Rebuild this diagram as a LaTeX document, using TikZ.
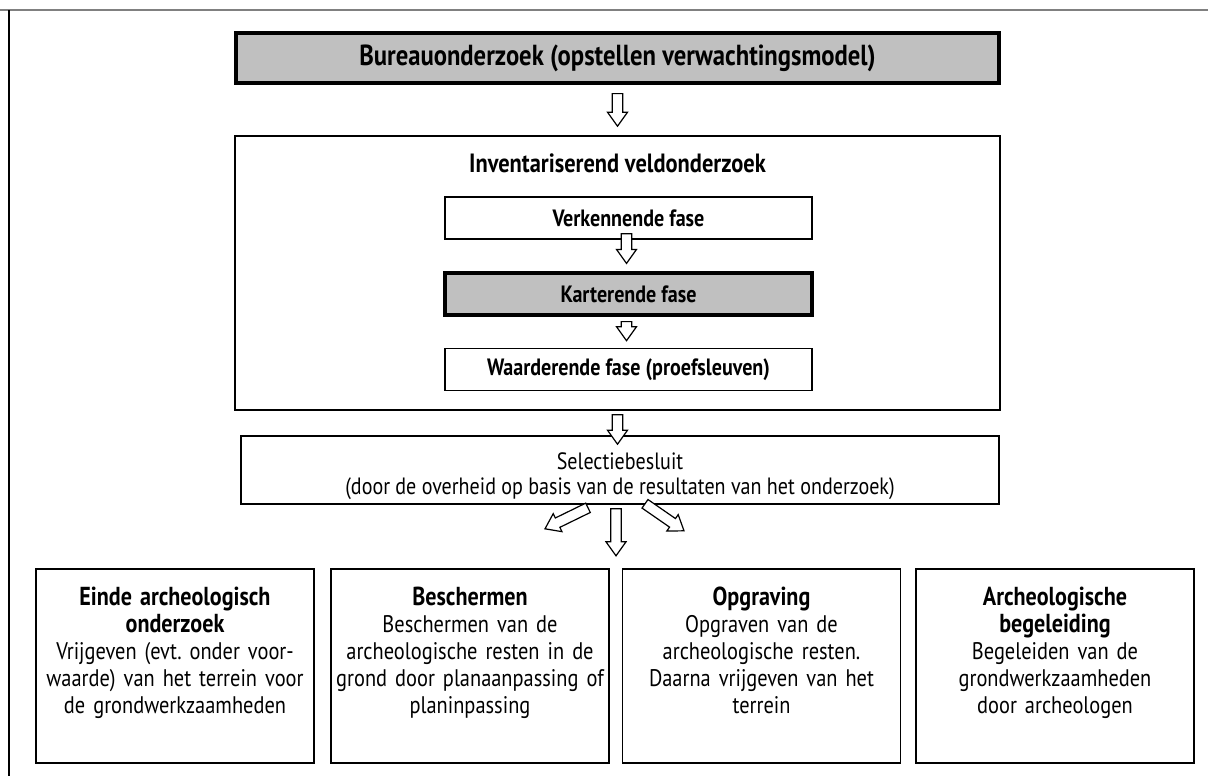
\documentclass[tikz,border=0pt]{standalone}
\usepackage{fontspec}
\setmainfont[FakeStretch=0.85]{PT Sans}
\usetikzlibrary{calc,positioning}

\definecolor{boxgray}{HTML}{C0C0C0}
\newcommand{\resulttitle}{\fontsize{13}{13.8}\selectfont\bfseries}

% hollow block arrow from #1 to #2
\newcommand{\blockarrow}[2]{%
  \draw[arrowbody] let \p1=(#1), \p2=(#2), \p3=($(\p2)!7pt!(\p1)$) in
    ($(\p1)!2.6pt!90:(\p2)$) -- ($(\p3)!2.6pt!90:(\p2)$) -- ($(\p3)!5pt!90:(\p2)$)
    -- (\p2) -- ($(\p3)!5pt!-90:(\p2)$) -- ($(\p3)!2.6pt!-90:(\p2)$)
    -- ($(\p1)!2.6pt!-90:(\p2)$) -- cycle;}

\tikzset{
  box/.style={draw, line width=0.8pt, align=center, inner sep=2pt},
  greybox/.style={box, fill=boxgray, line width=1.6pt},
  phase/.style={box, minimum width=183.5pt, minimum height=21pt, font=\fontsize{11.8}{14}\bfseries},
  endbox/.style={box, minimum width=139pt, minimum height=97pt},
  endtext/.style={align=center, text width=135pt, inner sep=2pt, font=\fontsize{12}{13.6}\selectfont\frenchspacing},
  arrowbody/.style={draw, fill=white, line width=0.6pt, line join=miter}
}

\begin{document}
\begin{tikzpicture}[x=0.5pt, y=-0.5pt, font=\fontsize{11.8}{12.5}\selectfont]
    \useasboundingbox (0,0) rectangle (1208,776);
    % page frame
    \draw[gray, line width=1pt] (0,10) -- (1208,10);
    \draw[line width=0.8pt] (9,10) -- (9,776);

    \node[greybox, minimum width=381.5pt, minimum height=25pt, font=\fontsize{14.5}{16}\bfseries] (bureau) at (617.5,58) {Bureauonderzoek (opstellen verwachtingsmodel)};

    \node[box, minimum width=382.5pt, minimum height=137pt] (inv) at (617.5,273) {};
    \node[font=\fontsize{13.2}{15}\bfseries] (invtitle) at (617.5,163) {Inventariserend veldonderzoek};
    \node[phase] (verk) at (628.5,218) {Verkennende fase};
    \node[phase, fill=boxgray, line width=1.6pt] (kart) at (628.5,294) {Karterende fase};
    \node[phase] (waard) at (628.5,369.5) {Waarderende fase (proefsleuven)};

    \node[box, minimum width=379pt, minimum height=34pt] (sel) at (620,470) {};
    \node[align=center] (seltxt) at ([yshift=-3pt]sel.center) {Selectiebesluit\\(door de overheid op basis van de resultaten van het onderzoek)};

    \node[endbox] (einde) at (175,666) {};
    \node[endtext, below=7pt of einde.north] (eindetxt) {{\resulttitle Einde archeologisch\\onderzoek}\par Vrijgeven (evt. onder voor-\\waarde) van het terrein voor\\de grondwerkzaamheden};
    \node[endbox] (bescherm) at (470,666) {};
    \node[endtext, below=7pt of bescherm.north] (beschermtxt) {{\resulttitle Beschermen}\par Beschermen van de\\archeologische resten in de\\grond door planaanpassing of\\planinpassing};
    \node[endbox] (opgraving) at (761.5,666) {};
    \node[endtext, below=7pt of opgraving.north] (opgravingtxt) {{\resulttitle Opgraving}\par Opgraven van de\\archeologische resten.\\Daarna vrijgeven van het\\terrein};
    \node[endbox] (begeleid) at (1055,666) {};
    \node[endtext, below=7pt of begeleid.north] (begeleidtxt) {{\resulttitle Archeologische\\begeleiding}\par Begeleiden van de\\grondwerkzaamheden\\door archeologen};

    \coordinate (selin) at (inv.south |- sel.north);
    \coordinate (lefttail) at ($(sel.south)+(-32,3)$);
    \coordinate (lefttip) at ($(sel.south)+(-75,24)$);
    \coordinate (midtail) at ($(sel.south)+(-4,4)$);
    \coordinate (midtip) at ($(sel.south)+(-4,51)$);
    \coordinate (righttail) at ($(sel.south)+(25,-1)$);
    \coordinate (righttip) at ($(sel.south)+(64,26)$);

    \blockarrow{[yshift=-4.5pt]bureau.south}{[yshift=4.5pt]inv.north}
    \blockarrow{[xshift=-1pt,yshift=3pt]verk.south}{[xshift=-1pt,yshift=4pt]kart.north}
    \blockarrow{[xshift=-1pt,yshift=-2.5pt]kart.south}{[xshift=-1pt,yshift=3.5pt]waard.north}
    \blockarrow{[yshift=-2pt]inv.south}{[yshift=-4.5pt]selin}
    \blockarrow{lefttail}{lefttip}
    \blockarrow{midtail}{midtip}
    \blockarrow{righttail}{righttip}
\end{tikzpicture}
\end{document}
